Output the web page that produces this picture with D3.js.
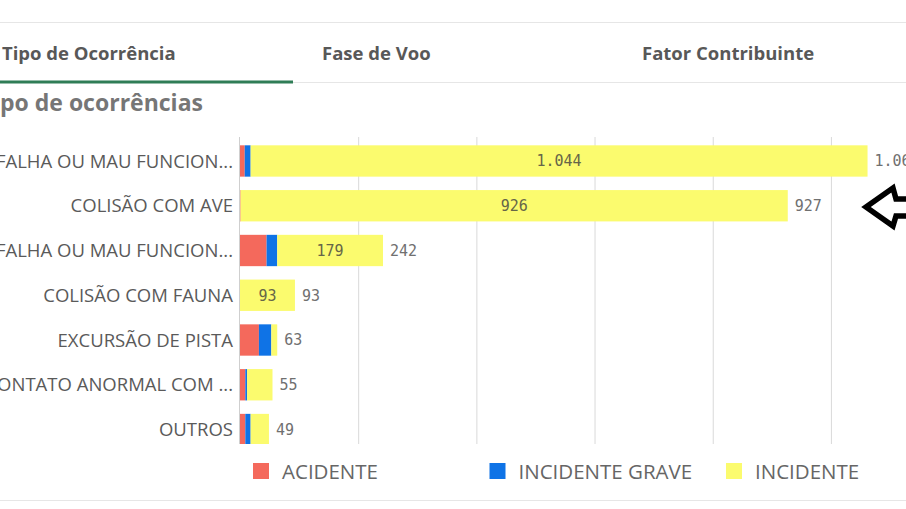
<!DOCTYPE html>
<html>
<head>
<meta charset="utf-8">
<script src="https://cdn.jsdelivr.net/npm/d3@7"></script>
<style>
  html, body { margin: 0; padding: 0; background: #fff; overflow: hidden; }
  svg { display: block; }
</style>
</head>
<body>
<div id="chart"></div>
<script>
// categories as shown (already cut by the app)
var categories = [
    "FALHA OU MAU FUNCION...",
    "COLISÃO COM AVE",
    "FALHA OU MAU FUNCION... ",
    "COLISÃO COM FAUNA",
    "EXCURSÃO DE PISTA",
    "CONTATO ANORMAL COM ...",
    "OUTROS"
];
var acidente        = [8, 1, 45, 0, 32, 9, 9];
var incidenteGrave  = [10, 0, 18, 0, 21, 3, 9];
var incidente       = [1044, 926, 179, 93, 10, 43, 31];
var seriesNames = ["ACIDENTE", "INCIDENTE GRAVE", "INCIDENTE"];
var seriesColors = ["#f4695c", "#0f73e6", "#fbfb6e"];
var tabs = ["Tipo de Ocorrência", "Fase de Voo", "Fator Contribuinte"];
var xTicks = [200, 400, 600, 800, 1000];

var width = 906, height = 509;
var fmt = d3.formatLocale({decimal: ",", thousands: ".", grouping: [3]}).format(",d");

var svg = d3.select("#chart").append("svg")
    .attr("width", width)
    .attr("height", height);

// header lines + tabs
svg.append("line").attr("x1", 0).attr("x2", width).attr("y1", 22.5).attr("y2", 22.5)
    .attr("stroke", "#e6e6e6");
svg.append("line").attr("x1", 0).attr("x2", width).attr("y1", 82.5).attr("y2", 82.5)
    .attr("stroke", "#e6e6e6");
svg.append("rect").attr("x", 0).attr("y", 80.5).attr("width", 293).attr("height", 3)
    .attr("fill", "#2f7d56");

var tabX = [2, 322, 642];
svg.selectAll(".tab")
    .data(tabs)
    .enter().append("text")
    .attr("class", "tab")
    .attr("x", function(d, i) { return tabX[i]; })
    .attr("y", 60)
    .style("font-family", "'Open Sans', sans-serif")
    .style("font-weight", 700)
    .style("font-size", "18.5px")
    .attr("fill", "#585858")
    .text(function(d) { return d; });

// title, scrolled a bit to the left so "Ti" is off screen
var title = svg.append("text")
    .attr("y", 111)
    .style("font-family", "'Open Sans', sans-serif")
    .style("font-weight", 700)
    .style("font-size", "23px")
    .attr("fill", "#767676")
    .text("Tipo de ocorrências");
var tmp = svg.append("text")
    .style("font-family", "'Open Sans', sans-serif")
    .style("font-weight", 700)
    .style("font-size", "23px")
    .text("Ti");
var tiW = tmp.node().getComputedTextLength();
tmp.remove();
title.attr("x", -tiW);

// scales
var x = d3.scaleLinear().domain([0, 1100]).range([240, 890]);
var y = d3.scaleBand().domain(categories).range([138.6, 451.9])
    .paddingInner(0.3).paddingOuter(0.15);

var plotTop = 137, plotBottom = 444;

svg.append("defs").append("clipPath").attr("id", "plotclip")
    .append("rect").attr("x", -50).attr("y", plotTop).attr("width", width + 100)
    .attr("height", plotBottom - plotTop);

// grid
svg.append("g").selectAll("line")
    .data(xTicks)
    .enter().append("line")
    .attr("x1", function(d) { return x(d) + 0.5; })
    .attr("x2", function(d) { return x(d) + 0.5; })
    .attr("y1", plotTop).attr("y2", plotBottom)
    .attr("stroke", "#d9d9d9");

svg.append("line")
    .attr("x1", x(0) - 0.5).attr("x2", x(0) - 0.5)
    .attr("y1", plotTop).attr("y2", plotBottom)
    .attr("stroke", "#cfcfcf");

// stacked data
var rows = categories.map(function(c, i) {
    return {cat: c, vals: [acidente[i], incidenteGrave[i], incidente[i]]};
});

var g = svg.append("g").attr("clip-path", "url(#plotclip)");

rows.forEach(function(r) {
    var x0 = 0;
    r.vals.forEach(function(v, k) {
        if (v > 0) {
            g.append("rect")
                .attr("x", x(x0))
                .attr("y", y(r.cat))
                .attr("width", x(x0 + v) - x(x0))
                .attr("height", y.bandwidth())
                .attr("fill", seriesColors[k]);
            // label inside the segment if it fits
            if (k == 2 && x(x0 + v) - x(x0) > 40) {
                g.append("text")
                    .attr("x", (x(x0) + x(x0 + v)) / 2)
                    .attr("y", y(r.cat) + y.bandwidth() / 2)
                    .attr("dy", "0.36em")
                    .attr("text-anchor", "middle")
                    .style("font-family", "'DejaVu Sans Mono', monospace")
                    .style("font-size", "15px")
                    .attr("fill", "#666648")
                    .text(fmt(v));
            }
        }
        x0 += v;
    });
    g.append("text")
        .attr("x", x(x0) + 7)
        .attr("y", y(r.cat) + y.bandwidth() / 2)
        .attr("dy", "0.36em")
        .style("font-family", "'DejaVu Sans Mono', monospace")
        .style("font-size", "15px")
        .attr("fill", "#707070")
        .text(fmt(x0));
});

// category labels
svg.append("g").attr("clip-path", "url(#plotclip)").selectAll("text")
    .data(categories)
    .enter().append("text")
    .attr("x", 233)
    .attr("y", function(d) { return y(d) + y.bandwidth() / 2; })
    .attr("dy", "0.36em")
    .attr("text-anchor", "end")
    .style("font-family", "'Open Sans', sans-serif")
    .style("font-size", "18.5px")
    .attr("fill", "#5a5a5a")
    .text(function(d) { return d.trim(); });

// legend
var leg = svg.append("g").selectAll("g")
    .data(seriesNames)
    .enter().append("g")
    .attr("transform", function(d, i) { return "translate(" + (253 + i * 236.5) + ",463)"; });
leg.append("rect")
    .attr("width", 16).attr("height", 16)
    .attr("fill", function(d, i) { return seriesColors[i]; });
leg.append("text")
    .attr("x", 29).attr("y", 15.5)
    .style("font-family", "'Open Sans', sans-serif")
    .style("font-size", "20.5px")
    .attr("fill", "#666")
    .text(function(d) { return d; });

svg.append("line").attr("x1", 0).attr("x2", width).attr("y1", 500.5).attr("y2", 500.5)
    .attr("stroke", "#e6e6e6");

// the hand drawn arrow pointing at "COLISÃO COM AVE"
var arrow = [[866, 207], [893, 188], [896, 199], [912, 199], [912, 216], [896, 216], [893, 226]];
svg.append("path")
    .attr("d", d3.line()(arrow) + "Z")
    .attr("fill", "#fff")
    .attr("stroke", "#000")
    .attr("stroke-width", 5.5)
    .attr("stroke-linejoin", "miter");
</script>
</body>
</html>
